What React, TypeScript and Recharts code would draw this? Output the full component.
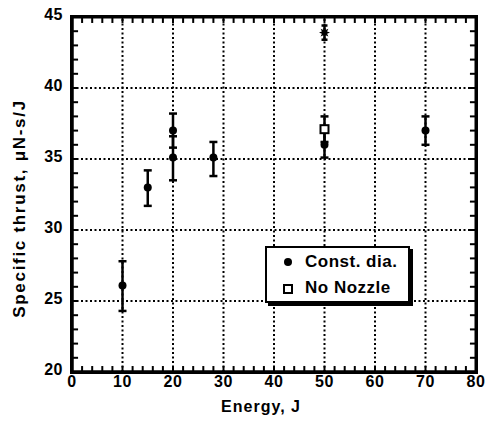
import React from "react";
import {
  ScatterChart,
  Scatter,
  XAxis,
  YAxis,
  ErrorBar,
  ReferenceLine,
  ReferenceArea,
  Legend,
} from "recharts";

const FONT = '"Liberation Sans", Arial, Helvetica, sans-serif';

// Const. dia. series
const constEnergy = [10, 15, 20, 20, 28, 50, 70];
const constThrust = [26.1, 33.0, 37.0, 35.1, 35.1, 36.0, 37.0];
const constLow = [24.3, 31.7, 35.8, 33.5, 33.8, 35.1, 36.0];
const constHigh = [27.8, 34.2, 38.2, 36.6, 36.2, 36.9, 38.0];

// No Nozzle series
const noNozzleEnergy = [50];
const noNozzleThrust = [37.1];
const noNozzleLow = [36.2];
const noNozzleHigh = [38.0];

// Unlabelled point at top
const otherEnergy = [50];
const otherThrust = [43.9];
const otherLow = [43.4];
const otherHigh = [44.4];

const X_MIN = 0;
const X_MAX = 80;
const Y_MIN = 20;
const Y_MAX = 45;

const xMajorTicks = [0, 10, 20, 30, 40, 50, 60, 70, 80];
const xMinorTicks = [
  2, 4, 6, 8, 10, 12, 14, 16, 18, 20, 22, 24, 26, 28, 30, 32, 34, 36, 38, 40,
  42, 44, 46, 48, 50, 52, 54, 56, 58, 60, 62, 64, 66, 68, 70, 72, 74, 76, 78,
];
const yMajorTicks = [20, 25, 30, 35, 40, 45];
const yMinorTicks = [
  21, 22, 23, 24, 25, 26, 27, 28, 29, 30, 31, 32, 33, 34, 35, 36, 37, 38, 39,
  40, 41, 42, 43, 44,
];
const xGrid = [10, 20, 30, 40, 50, 60, 70];
const yGrid = [25, 30, 35, 40];

// inward tick lengths, in axis units (about 6 px)
const X_TICK_LEN = 0.42;
const Y_TICK_LEN = 1.2;

const build = (xs: number[], ys: number[], lo: number[], hi: number[]) =>
  xs.map((x, i) => ({ x, y: ys[i], err: [ys[i] - lo[i], hi[i] - ys[i]] }));

const constData = build(constEnergy, constThrust, constLow, constHigh);
const noNozzleData = build(noNozzleEnergy, noNozzleThrust, noNozzleLow, noNozzleHigh);
const otherData = build(otherEnergy, otherThrust, otherLow, otherHigh);

const BottomTick = (p: any) => (
  <g>
    <text
      x={p.x}
      y={p.y + 14.5}
      textAnchor="middle"
      fill="#000"
      fontFamily={FONT}
      fontWeight="bold"
      fontSize={16}
      letterSpacing={0.5}
    >
      {p.payload.value}
    </text>
  </g>
);

const LeftTick = (p: any) => (
  <g>
    <text
      x={p.x - 9}
      y={p.y + 2.5}
      textAnchor="end"
      fill="#000"
      fontFamily={FONT}
      fontWeight="bold"
      fontSize={16}
      letterSpacing={0.5}
    >
      {p.payload.value}
    </text>
  </g>
);

const CircleShape = (p: any) => <circle cx={p.cx} cy={p.cy} r={4} fill="#000" />;
const SquareShape = (p: any) => (
  <rect x={p.cx - 4} y={p.cy - 4} width={8} height={8} fill="#fff" stroke="#000" strokeWidth={2} />
);
const StarShape = (p: any) => {
  const pts: string[] = [];
  for (let i = 0; i < 16; i++) {
    const r = i % 2 === 0 ? 5.5 : 2.8;
    const a = (Math.PI * i) / 8;
    pts.push(`${p.cx + r * Math.sin(a)},${p.cy - r * Math.cos(a)}`);
  }
  return <polygon points={pts.join(" ")} fill="#000" />;
};

const YLabel = (lp: any) => {
  const vb = lp.viewBox || {};
  const cx = 19;
  const cy = (vb.y || 0) + (vb.height || 0) / 2 + 14;
  return (
    <text
      x={cx}
      y={cy}
      transform={`rotate(-90, ${cx}, ${cy})`}
      textAnchor="middle"
      dominantBaseline="central"
      fill="#000"
      fontFamily={FONT}
      fontWeight="bold"
      fontSize={17}
      letterSpacing={1.7}
    >
      Specific thrust, μN-s/J
    </text>
  );
};

const XLabel = (lp: any) => {
  const vb = lp.viewBox || {};
  const cx = (vb.x || 0) + (vb.width || 0) / 2 - 13;
  return (
    <text
      x={cx}
      y={412}
      textAnchor="middle"
      fill="#000"
      fontFamily={FONT}
      fontWeight="bold"
      fontSize={16}
      letterSpacing={1}
    >
      Energy, J
    </text>
  );
};

const LegendContent = (props: any) => {
  const items = (props.payload || []).filter((e: any) => e.type !== "none");
  return (
    <div
      style={{
        width: 141,
        height: 53,
        border: "2px solid #000",
        boxShadow: "3px 3px 0 #000",
        background: "#fff",
        position: "relative",
        fontFamily: FONT,
        fontWeight: 700,
        fontSize: 17,
        letterSpacing: 0.5,
        color: "#000",
      }}
    >
      {items.map((e: any, i: number) => (
        <div
          key={i}
          style={{
            position: "absolute",
            left: 0,
            top: 3 + i * 26,
            height: 22,
            display: "flex",
            alignItems: "center",
            whiteSpace: "nowrap",
          }}
        >
          <svg width={36} height={22} style={{ display: "block" }}>
            {e.value === "Const. dia." ? (
              <circle cx={21} cy={11} r={4} fill="#000" />
            ) : (
              <rect x={17} y={8} width={8} height={8} fill="#fff" stroke="#000" strokeWidth={2} />
            )}
          </svg>
          <span style={{ marginLeft: 2 }}>{e.value}</span>
        </div>
      ))}
    </div>
  );
};

const seg = (x1: number, y1: number, x2: number, y2: number) => [
  { x: x1, y: y1 },
  { x: x2, y: y2 },
];

export default function App() {
  return (
    <div style={{ position: "absolute", left: 0, top: 0, width: 485, height: 424 }}>
      <ScatterChart width={485} height={424} margin={{ top: 17, right: 9, bottom: 0, left: 0 }}>
        <XAxis
          type="number"
          dataKey="x"
          domain={[X_MIN, X_MAX]}
          ticks={xMajorTicks}
          interval={0}
          height={52}
          tickSize={0}
          tickMargin={0}
          tick={BottomTick}
          tickLine={false}
          axisLine={{ stroke: "#000", strokeWidth: 3 }}
          stroke="#000"
          label={{ content: XLabel }}
        />
        <YAxis
          type="number"
          dataKey="y"
          domain={[Y_MIN, Y_MAX]}
          ticks={yMajorTicks}
          interval={0}
          width={72}
          tickSize={0}
          tickMargin={0}
          tick={LeftTick}
          tickLine={false}
          axisLine={{ stroke: "#000", strokeWidth: 3 }}
          stroke="#000"
          label={{ content: YLabel }}
        />
        {xGrid.map((v) => (
          <ReferenceLine key={`gx${v}`} x={v} stroke="#000" strokeWidth={2} strokeDasharray="2 2.5" />
        ))}
        {yGrid.map((v) => (
          <ReferenceLine key={`gy${v}`} y={v} stroke="#000" strokeWidth={2} strokeDasharray="2 2.5" />
        ))}
        <ReferenceArea
          x1={X_MIN}
          x2={X_MAX}
          y1={Y_MIN}
          y2={Y_MAX}
          fill="none"
          fillOpacity={0}
          stroke="#000"
          strokeWidth={3}
          strokeOpacity={1}
          ifOverflow="visible"
        />
        {xMinorTicks.map((v) => (
          <ReferenceLine key={`tb${v}`} ifOverflow="visible" segment={seg(v, Y_MIN, v, Y_MIN + X_TICK_LEN)} stroke="#000" strokeWidth={2} />
        ))}
        {xMinorTicks.map((v) => (
          <ReferenceLine key={`tt${v}`} ifOverflow="visible" segment={seg(v, Y_MAX, v, Y_MAX - X_TICK_LEN)} stroke="#000" strokeWidth={2} />
        ))}
        {yMinorTicks.map((v) => (
          <ReferenceLine key={`tl${v}`} ifOverflow="visible" segment={seg(X_MIN, v, X_MIN + Y_TICK_LEN, v)} stroke="#000" strokeWidth={2} />
        ))}
        {yMinorTicks.map((v) => (
          <ReferenceLine key={`tr${v}`} ifOverflow="visible" segment={seg(X_MAX, v, X_MAX - Y_TICK_LEN, v)} stroke="#000" strokeWidth={2} />
        ))}
        <Legend
          layout="horizontal"
          verticalAlign="middle"
          align="center"
          wrapperStyle={{ left: 265, top: 246, width: 145 }}
          content={LegendContent}
        />
        <Scatter name="Const. dia." data={constData} shape={CircleShape} isAnimationActive={false}>
          <ErrorBar dataKey="err" direction="y" width={4} stroke="#000" strokeWidth={2.5} />
        </Scatter>
        <Scatter name="No Nozzle" data={noNozzleData} shape={SquareShape} isAnimationActive={false}>
          <ErrorBar dataKey="err" direction="y" width={4} stroke="#000" strokeWidth={2.5} />
        </Scatter>
        <Scatter name="other" legendType="none" data={otherData} shape={StarShape} isAnimationActive={false}>
          <ErrorBar dataKey="err" direction="y" width={3} stroke="#000" strokeWidth={2.5} />
        </Scatter>
      </ScatterChart>
      <div
        style={{
          position: "absolute",
          left: 70,
          top: 15,
          width: 408,
          height: 359,
          boxSizing: "border-box",
          border: "3px solid #000",
          pointerEvents: "none",
        }}
      />
    </div>
  );
}
